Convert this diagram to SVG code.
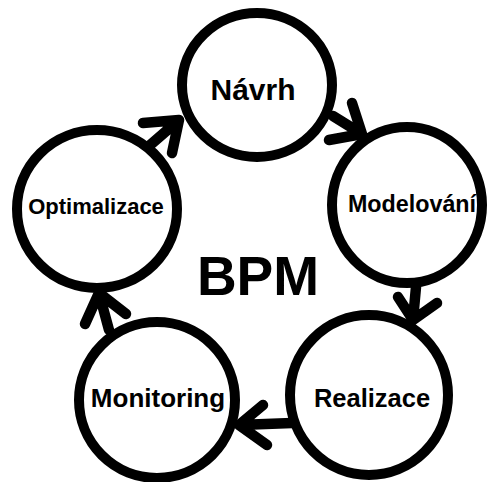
<svg xmlns="http://www.w3.org/2000/svg" width="487" height="482" viewBox="0 0 487 482">
  <defs>
    <style>
      .ring { fill: #ffffff; stroke: #000000; stroke-width: 10; }
      .lbl { font-family: "Liberation Sans", Arial, sans-serif; font-weight: bold; fill: #000000; text-anchor: middle; }
      .arrow { fill: none; stroke: #000000; stroke-width: 10.5; stroke-linecap: round; stroke-linejoin: round; }
    </style>
  </defs>
  <rect width="487" height="482" fill="#ffffff"/>

  <!-- cycle connectors: stem plus open chevron head -->
  <g id="connectors">
    <path class="arrow" d="M333,116 L362,134 M352,103 L362,134 L329,140"/>
    <path class="arrow" d="M416,287 L413,320 M398,297 L413,320 L437,303"/>
    <path class="arrow" d="M292,423 L239,425 M263,405 L239,425 L267,445"/>
    <path class="arrow" d="M109,330 L99,293 M85,324 L99,293 L126,314"/>
    <path class="arrow" d="M149,146 L179,120 M143,123 L179,120 L172,153"/>
  </g>

  <g id="navrh">
    <ellipse class="ring" cx="257" cy="85" rx="75" ry="72"/>
    <text class="lbl" x="253" y="100" font-size="30">Návrh</text>
  </g>
  <g id="modelovani">
    <ellipse class="ring" cx="407" cy="205" rx="75" ry="78"/>
    <text class="lbl" x="412" y="212" font-size="23.3">Modelování</text>
  </g>
  <g id="realizace">
    <ellipse class="ring" cx="369" cy="395" rx="79" ry="80"/>
    <text class="lbl" x="372" y="407" font-size="25.5">Realizace</text>
  </g>
  <g id="monitoring">
    <ellipse class="ring" cx="157" cy="400" rx="78" ry="78"/>
    <text class="lbl" x="158" y="407" font-size="26">Monitoring</text>
  </g>
  <g id="optimalizace">
    <ellipse class="ring" cx="97" cy="209" rx="80" ry="79"/>
    <text class="lbl" x="96" y="214" font-size="22">Optimalizace</text>
  </g>

  <g id="bpm">
    <text class="lbl" x="258" y="295" font-size="55">BPM</text>
  </g>
</svg>
